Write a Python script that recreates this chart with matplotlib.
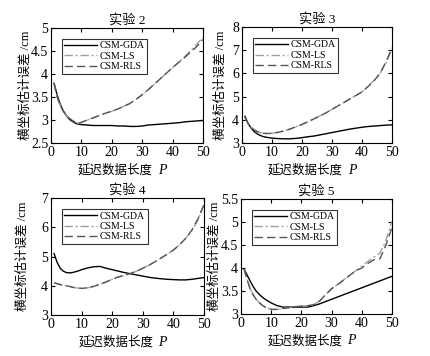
import matplotlib.pyplot as plt
import numpy as np

plt.rcParams['font.family'] = ['Liberation Serif', 'Noto Sans CJK SC']

# delay data length P
P = [1, 2, 3, 4, 5, 6, 7, 8, 9, 10, 12, 14, 16, 18, 20, 22, 24, 26, 28, 30,
     32, 34, 36, 38, 40, 42, 44, 46, 48, 50]

# experiment 2
gda_2 = [3.80, 3.55, 3.35, 3.20, 3.10, 3.02, 2.97, 2.93, 2.91, 2.90, 2.89, 2.88, 2.88, 2.88, 2.88,
         2.87, 2.87, 2.86, 2.86, 2.87, 2.89, 2.90, 2.91, 2.92, 2.93, 2.94, 2.96, 2.97, 2.98, 2.99]
ls_2 = [3.80, 3.50, 3.32, 3.20, 3.11, 3.04, 2.99, 2.95, 2.93, 2.95, 3.00, 3.05, 3.10, 3.15, 3.19,
        3.24, 3.30, 3.36, 3.45, 3.55, 3.66, 3.78, 3.90, 4.02, 4.14, 4.26, 4.38, 4.51, 4.65, 4.80]
rls_2 = [3.80, 3.50, 3.32, 3.20, 3.11, 3.04, 2.99, 2.95, 2.93, 2.95, 3.00, 3.05, 3.10, 3.15, 3.19,
         3.24, 3.30, 3.36, 3.45, 3.55, 3.66, 3.78, 3.90, 4.02, 4.14, 4.25, 4.36, 4.48, 4.60, 4.75]

# experiment 3
gda_3 = [4.15, 3.85, 3.65, 3.50, 3.40, 3.33, 3.28, 3.25, 3.23, 3.21, 3.19, 3.18, 3.18, 3.20, 3.23,
         3.27, 3.30, 3.35, 3.40, 3.45, 3.50, 3.55, 3.60, 3.64, 3.68, 3.71, 3.73, 3.75, 3.77, 3.78]
ls_3 = [4.10, 3.85, 3.68, 3.57, 3.50, 3.45, 3.42, 3.41, 3.41, 3.42, 3.46, 3.52, 3.60, 3.70, 3.80,
        3.92, 4.04, 4.17, 4.30, 4.45, 4.60, 4.75, 4.90, 5.05, 5.20, 5.45, 5.70, 6.00, 6.45, 7.05]
rls_3 = [4.10, 3.85, 3.68, 3.57, 3.50, 3.45, 3.42, 3.41, 3.41, 3.42, 3.46, 3.52, 3.60, 3.70, 3.80,
         3.92, 4.04, 4.17, 4.30, 4.45, 4.60, 4.75, 4.90, 5.05, 5.20, 5.43, 5.68, 6.00, 6.50, 7.10]

# experiment 4
gda_4 = [5.10, 4.80, 4.60, 4.50, 4.45, 4.44, 4.45, 4.48, 4.51, 4.55, 4.61, 4.65, 4.66, 4.60, 4.55,
         4.50, 4.45, 4.41, 4.37, 4.33, 4.29, 4.26, 4.24, 4.22, 4.21, 4.20, 4.20, 4.22, 4.25, 4.28]
ls_4 = [4.10, 4.07, 4.04, 4.02, 4.00, 3.98, 3.95, 3.93, 3.92, 3.91, 3.93, 3.98, 4.05, 4.13, 4.22,
        4.30, 4.36, 4.42, 4.50, 4.60, 4.70, 4.82, 4.95, 5.08, 5.22, 5.40, 5.62, 5.88, 6.25, 6.75]
rls_4 = [4.10, 4.07, 4.04, 4.02, 4.00, 3.98, 3.95, 3.93, 3.92, 3.91, 3.93, 3.98, 4.05, 4.13, 4.22,
         4.30, 4.36, 4.42, 4.50, 4.60, 4.70, 4.82, 4.95, 5.08, 5.22, 5.40, 5.62, 5.90, 6.28, 6.78]

# experiment 5
gda_5 = [3.98, 3.85, 3.72, 3.60, 3.50, 3.43, 3.37, 3.32, 3.28, 3.24, 3.18, 3.15, 3.15, 3.15, 3.15,
         3.15, 3.18, 3.22, 3.27, 3.32, 3.37, 3.42, 3.47, 3.52, 3.57, 3.62, 3.67, 3.72, 3.77, 3.82]
ls_5 = [3.98, 3.75, 3.55, 3.42, 3.32, 3.25, 3.19, 3.15, 3.12, 3.10, 3.10, 3.12, 3.14, 3.16, 3.17,
        3.18, 3.20, 3.28, 3.42, 3.55, 3.64, 3.74, 3.84, 3.94, 4.04, 4.14, 4.24, 4.32, 4.60, 5.02]
rls_5 = [3.98, 3.75, 3.55, 3.42, 3.32, 3.25, 3.19, 3.15, 3.12, 3.10, 3.10, 3.12, 3.14, 3.16, 3.17,
         3.18, 3.20, 3.28, 3.42, 3.55, 3.64, 3.74, 3.84, 3.94, 4.00, 4.10, 4.18, 4.20, 4.50, 4.88]

titles = ['实验 2', '实验 3', '实验 4', '实验 5']
series = [(gda_2, ls_2, rls_2), (gda_3, ls_3, rls_3), (gda_4, ls_4, rls_4), (gda_5, ls_5, rls_5)]
ylims = [(2.5, 5), (3, 8), (3, 7), (3, 5.5)]
yticks = [np.arange(2.5, 5.01, 0.5), np.arange(3, 8.01, 1), np.arange(3, 7.01, 1),
          np.arange(3, 5.51, 0.5)]

# axes rectangles in pixels (left, top, right, bottom)
W, H = 430, 356
boxes = [(51, 28, 203, 143), (242, 27, 392, 143), (51, 198, 204, 315), (241, 199, 392, 314)]
ylabel_x = [-0.125, -0.10, -0.144, -0.135]

fig = plt.figure(figsize=(W / 100, H / 100), dpi=100)
for i in range(4):
    x0, y0, x1, y1 = boxes[i]
    ax = fig.add_axes([x0 / W, 1 - y1 / H, (x1 - x0) / W, (y1 - y0) / H])
    gda, ls, rls = series[i]
    ax.plot(P, gda, color='black', lw=1.0, label='CSM-GDA')
    ax.plot(P, ls, color='#a0a0a0', lw=1.0, linestyle=(0, (6, 2, 1.5, 2)), label='CSM-LS')
    ax.plot(P, rls, color='#555555', lw=1.0, linestyle=(0, (6, 3)), label='CSM-RLS')
    ax.set_xlim(0, 50)
    ax.set_ylim(*ylims[i])
    ax.set_xticks([0, 10, 20, 30, 40, 50])
    ax.set_yticks(yticks[i])
    ax.set_yticklabels(['%g' % v for v in yticks[i]])
    ax.tick_params(direction='in', labelsize=10, length=3, pad=2, top=True, right=True)
    ax.set_title(titles[i], fontsize=9.5, pad=3)
    # x label: Chinese text plus italic P
    ax.annotate('延迟数据长度', xy=(0.5, 0), xycoords='axes fraction', xytext=(26, -27),
                textcoords='offset pixels', ha='right', va='center', fontsize=9)
    ax.annotate('P', xy=(0.5, 0), xycoords='axes fraction', xytext=(31, -27),
                textcoords='offset pixels', ha='left', va='center', fontsize=10, style='italic')
    ax.set_ylabel('横坐标估计误差 /cm', fontsize=9)
    ax.yaxis.set_label_coords(ylabel_x[i], 0.5)
    leg = ax.legend(loc='upper left', bbox_to_anchor=(0.07, 0.905), fontsize=7, frameon=True,
                    fancybox=False, handlelength=3.4, borderpad=0.25, labelspacing=0.15,
                    handletextpad=0.3, borderaxespad=0)
    leg.get_frame().set_edgecolor('black')
    leg.get_frame().set_linewidth(0.8)

fig.savefig('out.png', dpi=100)
